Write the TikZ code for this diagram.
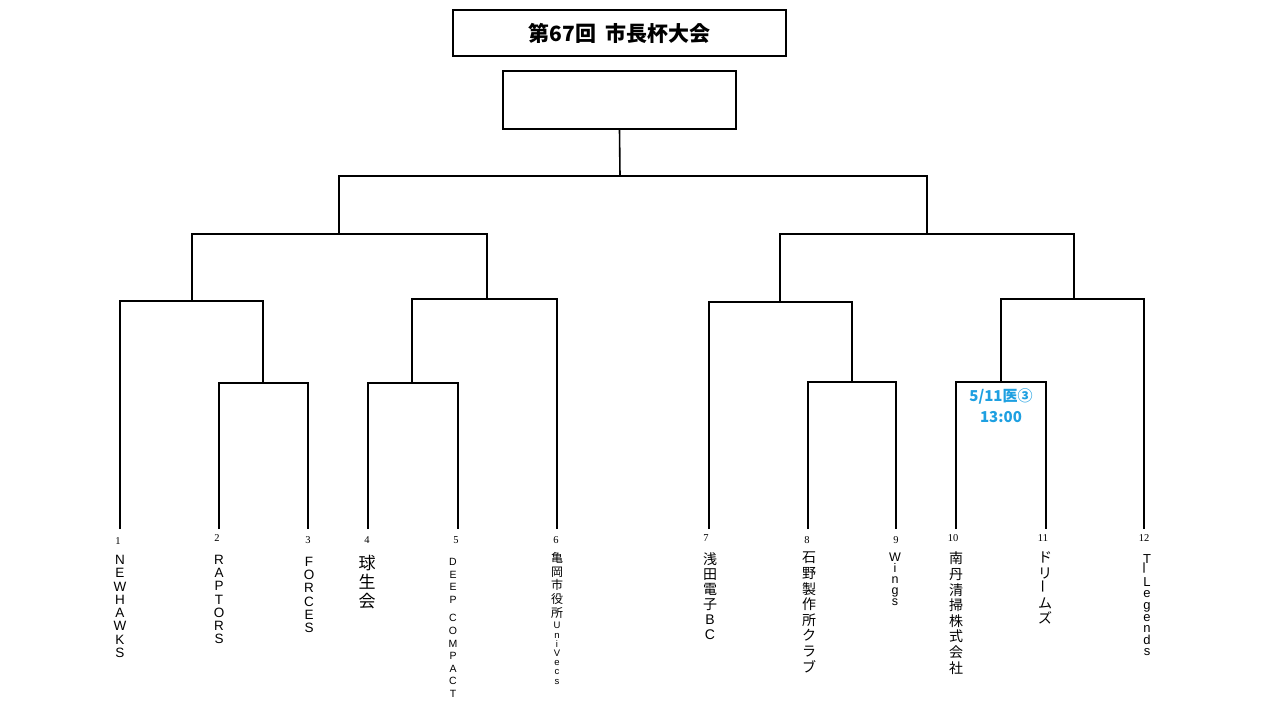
\documentclass[tikz,border=0pt]{standalone}
\usepackage{fontspec}
\newfontfamily\cjk{Noto Sans CJK JP}
\newfontfamily\lat{Liberation Sans}
\newfontfamily\numfont{Liberation Serif}
\definecolor{schedblue}{RGB}{30,160,225}
\newcommand{\tightlines}{\lineskiplimit=-30pt\relax}
\newcommand{\vbar}{\rotatebox{90}{ー}}
\newcommand{\smlat}[1]{{\lat\fontsize{9.5}{9}\selectfont #1}}
\begin{document}
\begin{tikzpicture}[x=1pt,y=-1pt,
  br/.style={line width=1.9pt, line join=miter},
  boxframe/.style={draw, line width=1.2pt, inner sep=0pt},
  num/.style={font=\numfont\fontsize{10.5}{12}\selectfont, inner sep=0pt},
  team/.style={anchor=north, align=center, inner sep=0pt, text=black},
  schedlabel/.style={align=center, inner sep=0pt, text=schedblue,
    font=\cjk\bfseries\fontsize{15}{21}\selectfont}]
\fill[white] (0,0) rectangle (1280,720);
\useasboundingbox (0,0) rectangle (1280,720);

% title and winner box
\node[boxframe, minimum width=333pt, minimum height=46pt,
  font=\cjk\bfseries\fontsize{21}{24}\selectfont] (title) at (619.5,33) {第67回\hspace{9pt}市長杯大会};
\node[boxframe, minimum width=233pt, minimum height=58pt] (champ) at (619.5,100) {};

% leaf bottoms
\coordinate (b1) at (120,529);
\coordinate (b2) at (219,529);
\coordinate (b3) at (308,529);
\coordinate (b4) at (368,529);
\coordinate (b5) at (458,529);
\coordinate (b6) at (557,529);
\coordinate (b7) at (709,529);
\coordinate (b8) at (808,529);
\coordinate (b9) at (896,529);
\coordinate (b10) at (956,529);
\coordinate (b11) at (1046,529);
\coordinate (b12) at (1144,529);

% junctions
\coordinate (m23) at (263,383);
\coordinate (m45) at (412,383);
\coordinate (m89) at (852,382);
\coordinate (m1011) at (1001,382);
\coordinate (qA) at (192,301);
\coordinate (qB) at (487,299);
\coordinate (qC) at (780,302);
\coordinate (qD) at (1074,299);
\coordinate (sL) at (339,234);
\coordinate (sR) at (927,234);
\coordinate (fJ) at (620,176);

% bracket lines
\draw[br] (b2) |- (m23) -| (b3);
\draw[br] (b1) |- (qA) -| (m23);
\draw[br] (b4) |- (m45) -| (b5);
\draw[br] (m45) |- (qB) -| (b6);
\draw[br] (qA) |- (sL) -| (qB);
\draw[br] (b8) |- (m89) -| (b9);
\draw[br] (b7) |- (qC) -| (m89);
\draw[br] (b10) |- (m1011) -| (b11);
\draw[br] (m1011) |- (qD) -| (b12);
\draw[br] (qC) |- (sR) -| (qD);
\draw[br] (sL) |- (fJ) -| (sR);
\draw[line width=1.6pt] (fJ) -- (champ.south);

% numbers
\node[num] (n1) at (118,541) {1};
\node[num] (n2) at (217,538) {2};
\node[num] (n3) at (308,540) {3};
\node[num] (n4) at (367,540) {4};
\node[num] (n5) at (456,540) {5};
\node[num] (n6) at (556,540) {6};
\node[num] (n7) at (706,538) {7};
\node[num] (n8) at (807,540) {8};
\node[num] (n9) at (896,540) {9};
\node[num] (n10) at (953,538) {10};
\node[num] (n11) at (1043,538) {11};
\node[num] (n12) at (1144,538) {12};

% team names (vertical)
\node[team, font=\lat\fontsize{13.5}{13.3}\selectfont\tightlines] (t1) at (120,555) {N\\E\\W\\H\\A\\W\\K\\S};
\node[team, font=\lat\fontsize{13.5}{13.2}\selectfont\tightlines] (t2) at (219,555) {R\\A\\P\\T\\O\\R\\S};
\node[team, font=\lat\fontsize{13.5}{13.2}\selectfont\tightlines] (t3) at (309,557) {F\\O\\R\\C\\E\\S};
\node[team, font=\cjk\fontsize{17}{19}\selectfont\tightlines] (t4) at (367,555) {球\\生\\会};
\node[team, font=\lat\fontsize{10.5}{12.6}\selectfont\tightlines] (t5) at (453,558) {D\\E\\E\\P\\[6pt]C\\O\\M\\P\\A\\C\\T};
\node[team, font=\cjk\fontsize{12}{13.7}\selectfont\tightlines] (t6) at (557,552) {亀\\岡\\市\\役\\所\\[-2pt]\smlat{U}\\[-4.5pt]\smlat{n}\\[-4.5pt]\smlat{i}\\[-4.5pt]\smlat{V}\\[-4.5pt]\smlat{e}\\[-4.5pt]\smlat{c}\\[-4.5pt]\smlat{s}};
\node[team, font=\cjk\fontsize{14}{15}\selectfont\tightlines] (t7) at (710,553) {浅\\田\\電\\子\\{\lat B}\\{\lat C}};
\node[team, font=\cjk\fontsize{14}{15.6}\selectfont\tightlines] (t8) at (809,552) {石\\野\\製\\作\\所\\ク\\ラ\\ブ};
\node[team, font=\lat\fontsize{12.5}{11}\selectfont\tightlines] (t9) at (895,553) {W\\i\\n\\g\\s};
\node[team, font=\cjk\fontsize{14}{15.6}\selectfont\tightlines] (t10) at (956,552) {南\\丹\\清\\掃\\株\\式\\会\\社};
\node[team, font=\cjk\fontsize{14}{15.2}\selectfont\tightlines] (t11) at (1045,552) {ド\\リ\\\vbar\\ム\\ズ};
\node[team, font=\lat\fontsize{13}{11.6}\selectfont\tightlines] (t12) at (1147,554) {T\\{\cjk\vbar}\\L\\e\\g\\e\\n\\d\\s};

% schedule label
\node[schedlabel] (info) at (1001,406) {5/11医③\\13:00};
\end{tikzpicture}
\end{document}
